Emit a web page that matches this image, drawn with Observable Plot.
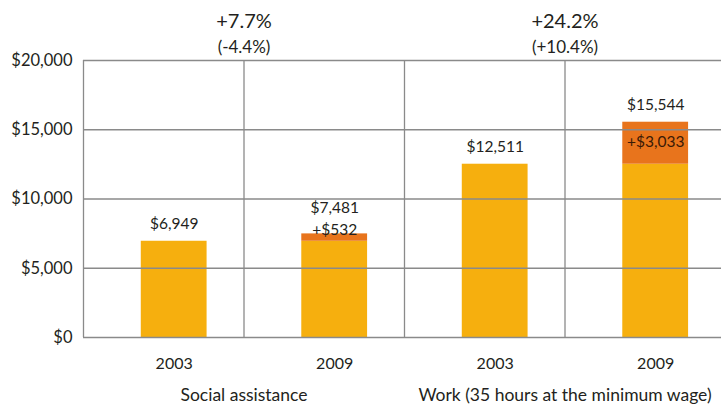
<!DOCTYPE html>
<html>
<head>
<meta charset="utf-8">
<script src="https://cdn.jsdelivr.net/npm/d3@7"></script>
<script src="https://cdn.jsdelivr.net/npm/@observablehq/plot@0.6"></script>
<style>
  html, body { margin: 0; padding: 0; background: #fff; }
  #chart svg { display: block; }
</style>
</head>
<body>
<div id="chart"></div>
<script>
// ---- data ----
const groups = ["Social assistance", "Work (35 hours at the minimum wage)"];
const years = ["2003", "2009", "2003", "2009"];
const baseValues = [6949, 6949, 12511, 12511];
const increaseValues = [0, 532, 0, 3033];
const totalLabels = ["$6,949", "$7,481", "$12,511", "$15,544"];
const increaseLabels = ["", "+$532", "", "+$3,033"];
const nominalChange = ["+7.7%", "+24.2%"];
const realChange = ["(-4.4%)", "(+10.4%)"];
const yTicks = [0, 5000, 10000, 15000, 20000];

// ---- build table ----
const bars = years.map((year, i) => ({
  i,
  year,
  base: baseValues[i],
  inc: increaseValues[i],
  total: baseValues[i] + increaseValues[i],
  totalLabel: totalLabels[i],
  incLabel: increaseLabels[i]
}));
const groupRows = groups.map((g, k) => ({k, g, nominal: nominalChange[k], real: realChange[k]}));

const yellow = "#F6AF0E";
const orange = "#E8741C";
const grid = "#8a8a8a";
const ink = "#231f20";

const left = d => d.i + 0.36;
const right = d => d.i + 0.77;
const mid = d => d.i + 0.565;
const groupX = d => 1 + 2 * d.k;

const fmt = d3.format(",");

const chart = Plot.plot({
  width: 721,
  height: 406,
  marginLeft: 83,
  marginRight: 0,
  marginTop: 60,
  marginBottom: 69,
  x: {domain: [0, 4], range: [83, 725], axis: null},
  y: {domain: [0, 20000], axis: null},
  style: {fontFamily: "Lato, 'Open Sans', sans-serif", fontSize: "15px", color: ink, background: "#fff"},
  marks: [
    Plot.rectY(bars, {x1: left, x2: right, y1: 0, y2: "base", fill: yellow}),
    Plot.rectY(bars.filter(d => d.inc > 0), {x1: left, x2: right, y1: "base", y2: "total", fill: orange}),
    Plot.ruleY(yTicks, {stroke: grid, strokeWidth: 1.3}),
    Plot.ruleX([0, 1, 2, 3], {y1: 0, y2: 20000, stroke: grid, strokeWidth: 1.3}),
    // y tick labels
    Plot.text(yTicks, {x: 0, y: d => d, text: d => "$" + fmt(d), textAnchor: "end", dx: -11, fontSize: 16.5, fill: ink}),
    // x labels
    Plot.text(bars, {x: mid, y: 0, text: "year", dy: 26, fontSize: 16, fill: ink}),
    Plot.text(groupRows, {x: groupX, y: 0, text: "g", dy: 58, fontSize: 17.5, fill: ink}),
    // top change labels
    Plot.text(groupRows, {x: groupX, y: 20000, text: "nominal", dy: -39, fontSize: 20, fill: ink}),
    Plot.text(groupRows, {x: groupX, y: 20000, text: "real", dy: -13, fontSize: 17, fill: ink}),
    // total labels: small increase -> stacked above
    Plot.text(bars.filter(d => d.inc === 0 || d.inc > 1500), {x: mid, y: "total", text: "totalLabel", dy: -17, fontSize: 15.5, fill: ink}),
    Plot.text(bars.filter(d => d.inc > 0 && d.inc <= 1500), {x: mid, y: "total", text: "totalLabel", dy: -26, fontSize: 15.5, fill: ink}),
    Plot.text(bars.filter(d => d.inc > 0 && d.inc <= 1500), {x: mid, y: "total", text: "incLabel", dy: -4, fontSize: 15.5, fill: ink}),
    Plot.text(bars.filter(d => d.inc > 1500), {x: mid, y: "total", text: "incLabel", dy: 20, fontSize: 15.5, fill: "#3a1a06"})
  ]
});

document.getElementById("chart").appendChild(chart);
</script>
</body>
</html>
